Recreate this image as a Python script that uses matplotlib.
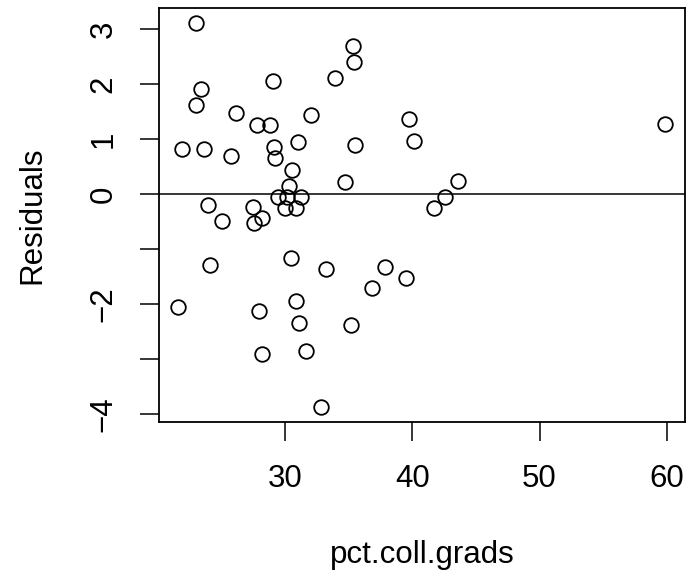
import numpy as np
import matplotlib.pyplot as plt

# residuals vs pct.coll.grads
pct_coll_grads = [22.97, 35.36, 35.41, 33.93, 29.03, 23.38, 22.94, 26.12, 32.00, 27.78,
                  28.83, 39.71, 40.16, 30.99, 35.49, 29.09, 21.84, 23.64, 25.73, 29.22,
                  30.49, 34.66, 30.28, 29.45, 30.16, 31.27, 29.97, 30.83, 23.88, 27.42,
                  25.05, 28.15, 27.50, 24.06, 30.44, 33.23, 37.86, 39.53, 36.82, 21.59,
                  27.94, 30.86, 31.04, 35.20, 28.17, 31.64, 32.81, 59.89, 43.56, 42.58,
                  41.72]
residuals = [3.11, 2.69, 2.40, 2.11, 2.05, 1.91, 1.62, 1.48, 1.43, 1.26,
             1.26, 1.37, 0.96, 0.94, 0.90, 0.86, 0.82, 0.81, 0.69, 0.65,
             0.44, 0.21, 0.145, -0.055, -0.055, -0.06, -0.25, -0.25, -0.20, -0.23,
             -0.50, -0.43, -0.52, -1.29, -1.16, -1.37, -1.32, -1.53, -1.71, -2.06,
             -2.13, -1.95, -2.35, -2.39, -2.92, -2.86, -3.87, 1.28, 0.24, -0.06,
             -0.25]

x_ticks = [30, 40, 50, 60]
y_ticks = [-4, -3, -2, -1, 0, 1, 2, 3]
y_labels = ['\u22124', '', '\u22122', '', '0', '1', '2', '3']

plt.rcParams['font.family'] = ['Liberation Sans', 'DejaVu Sans']
fs = 22.5

fig = plt.figure(figsize=(6.91, 5.77), dpi=100)
ax = fig.add_axes([0.230, 0.2686, 0.761, 0.718])

ax.plot(pct_coll_grads, residuals, 'o', mfc='none', mec='black', ms=10.5, mew=1.3)
ax.axhline(0, color='black', lw=1.1)

def r_lim(v):
    lo, hi = min(v), max(v)
    d = (hi - lo) * 0.04
    return lo - d, hi + d

ax.set_xlim(*r_lim(pct_coll_grads))
ax.set_ylim(*r_lim(residuals))

ax.set_xticks(x_ticks)
ax.set_xticklabels([str(t) for t in x_ticks])
ax.set_yticks(y_ticks)
ax.set_yticklabels(y_labels, rotation=90, va='center')

ax.tick_params(axis='both', length=14, width=1.1, labelsize=fs, direction='out')
ax.tick_params(axis='x', pad=16.5)
ax.tick_params(axis='y', pad=15)
for s in ax.spines.values():
    s.set_linewidth(1.3)

ax.set_xlabel('pct.coll.grads', fontsize=fs, labelpad=32.8)
ax.set_ylabel('Residuals', fontsize=fs, labelpad=30)

fig.savefig('out.png', dpi=100)
